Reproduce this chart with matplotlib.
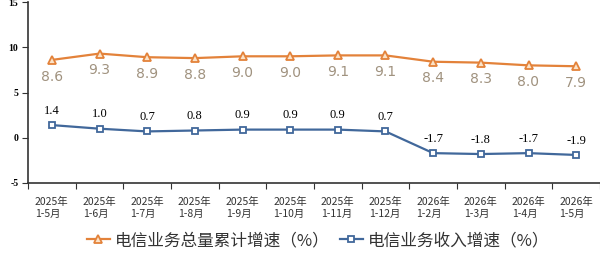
import numpy as np
import matplotlib.pyplot as plt

plt.rcParams['font.family'] = ['Noto Sans CJK SC', 'DejaVu Sans']

# =============================================================================
# DATI
# =============================================================================
mesi = ['2025年\n1-5月', '2025年\n1-6月', '2025年\n1-7月', '2025年\n1-8月',
        '2025年\n1-9月', '2025年\n1-10月', '2025年\n1-11月', '2025年\n1-12月',
        '2026年\n1-2月', '2026年\n1-3月', '2026年\n1-4月', '2026年\n1-5月']
volume = [8.6, 9.3, 8.9, 8.8, 9.0, 9.0, 9.1, 9.1, 8.4, 8.3, 8.0, 7.9]
ricavi = [1.4, 1.0, 0.7, 0.8, 0.9, 0.9, 0.9, 0.7, -1.7, -1.8, -1.7, -1.9]

lab_volume = '电信业务总量累计增速（%）'
lab_ricavi = '电信业务收入增速（%）'

c_orange = '#E3823A'
c_blue = '#41689B'
c_orange_txt = '#A0927F'

# =============================================================================
# GRAFICO
# =============================================================================
fig = plt.figure(figsize=(6.0, 2.64), dpi=100)
ax = fig.add_axes([28 / 600, 81 / 264, 572 / 600, 181 / 264])

x = np.arange(len(mesi))
ax.plot(x, volume, color=c_orange, lw=1.6, marker='^', ms=6,
        mfc='#FBE3C8', mec=c_orange, mew=1.3, label=lab_volume, zorder=3)
ax.plot(x, ricavi, color=c_blue, lw=1.6, marker='s', ms=4.5,
        mfc='white', mec=c_blue, mew=1.3, label=lab_ricavi, zorder=3)

for xi, v in zip(x, volume):
    ax.annotate(f'{v:.1f}', (xi, v), xytext=(0, -7), textcoords='offset points',
                ha='center', va='top', fontsize=10, color=c_orange_txt,
                family='DejaVu Sans')
for xi, v in zip(x, ricavi):
    ax.annotate(f'{v:.1f}', (xi, v), xytext=(0, 6), textcoords='offset points',
                ha='center', va='bottom', fontsize=9, color='black',
                family='Liberation Serif')

ax.set_xlim(-0.5, len(mesi) - 0.5)
ax.set_ylim(-5, 15)
ax.set_yticks([-5, 0, 5, 10, 15])
ax.set_yticklabels(['-5', '0', '5', '10', '15'], family='Liberation Serif',
                   fontsize=7, fontweight='bold')
ax.set_xticks(np.arange(len(mesi) + 1) - 0.5)
ax.set_xticklabels([])
ax.set_xticks(x, minor=True)
ax.set_xticklabels(mesi, minor=True, fontsize=7.5, color='#333333',
                   linespacing=1.3, multialignment='left')
ax.tick_params(axis='x', which='major', length=4, width=0.8, color='#333333')
ax.tick_params(axis='x', which='minor', length=0, pad=10)
ax.tick_params(axis='y', length=4, width=0.8, color='#333333', pad=3)

for s in ['top', 'right']:
    ax.spines[s].set_visible(False)
for s in ['left', 'bottom']:
    ax.spines[s].set_color('#333333')
    ax.spines[s].set_linewidth(1.2)

fig.legend(loc='lower center', bbox_to_anchor=(0.53, 0.0), ncol=2,
           frameon=False, fontsize=12, handlelength=1.4, columnspacing=0.6,
           handletextpad=0.3, labelcolor='#333333')

fig.savefig('out.png', dpi=100)
